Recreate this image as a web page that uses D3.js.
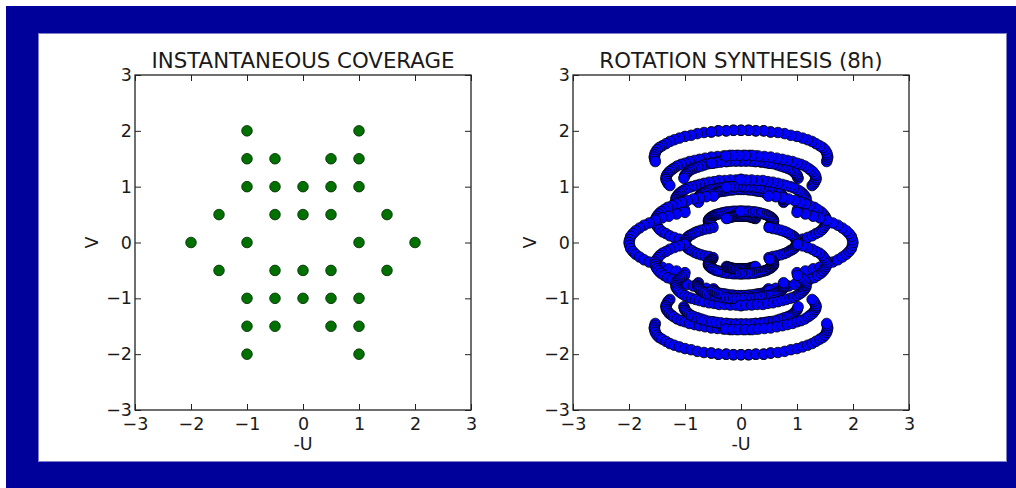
<!DOCTYPE html>
<html>
<head>
<meta charset="utf-8">
<script src="https://cdn.jsdelivr.net/npm/d3@7"></script>
<style>
  body { margin: 0; background: #fff; }
  svg text { font-family: "DejaVu Sans", sans-serif; fill: #1a1a1a; }
</style>
</head>
<body>
<div id="chart"></div>
<script>
// baselines in the instantaneous panel (-U, V)
const baseU = [-1, 1, -1, -0.5, 0.5, 1, -1, -0.5, 0, 0.5, 1, -1.5, -0.5, 0, 0.5, 1.5, -2, -1, 1, 2,
  -1.5, -0.5, 0, 0.5, 1.5, -1, -0.5, 0, 0.5, 1, -1, -0.5, 0.5, 1, -1, 1];
const baseV = [2, 2, 1.5, 1.5, 1.5, 1.5, 1, 1, 1, 1, 1, 0.5, 0.5, 0.5, 0.5, 0.5, 0, 0, 0, 0,
  -0.5, -0.5, -0.5, -0.5, -0.5, -1, -1, -1, -1, -1, -1.5, -1.5, -1.5, -1.5, -2, -2];

// 8h tracks, one row of 25 samples per baseline (U values)
const trackU = [
  // upper half
  [.53,.4,.26,.13,0,-.14,-.27,-.41,-.53,-.66,-.78,-.89,-1,-1.1,-1.19,-1.27,-1.34,-1.41,-1.46,-1.5,-1.53,-1.54,-1.55,-1.54,-1.53],
  [1.53,1.54,1.55,1.54,1.53,1.5,1.46,1.41,1.34,1.27,1.19,1.1,1,.89,.78,.66,.53,.41,.27,.14,0,-.13,-.26,-.4,-.53],
  [.27,.15,.04,-.08,-.2,-.31,-.42,-.53,-.64,-.74,-.83,-.92,-1,-1.07,-1.14,-1.2,-1.24,-1.28,-1.31,-1.33,-1.34,-1.34,-1.32,-1.3,-1.27],
  [.52,.44,.36,.27,.19,.1,.01,-.08,-.17,-.25,-.34,-.42,-.5,-.58,-.65,-.71,-.77,-.83,-.88,-.92,-.95,-.98,-1,-1.01,-1.02],
  [1.02,1.01,1,.98,.95,.92,.88,.83,.77,.71,.65,.58,.5,.42,.34,.25,.17,.08,-.01,-.1,-.19,-.27,-.36,-.44,-.52],
  [1.27,1.3,1.32,1.34,1.34,1.33,1.31,1.28,1.24,1.2,1.14,1.07,1,.92,.83,.74,.64,.53,.42,.31,.2,.08,-.04,-.15,-.27],
  [.01,-.09,-.19,-.29,-.39,-.48,-.57,-.66,-.74,-.81,-.88,-.94,-1,-1.05,-1.09,-1.12,-1.14,-1.16,-1.16,-1.16,-1.15,-1.13,-1.1,-1.06,-1.01],
  [.26,.2,.13,.07,0,-.07,-.14,-.2,-.27,-.33,-.39,-.45,-.5,-.55,-.6,-.64,-.67,-.7,-.73,-.75,-.76,-.77,-.77,-.77,-.76],
  [.51,.48,.45,.42,.38,.34,.3,.25,.2,.15,.1,.05,0,-.05,-.1,-.15,-.2,-.25,-.3,-.34,-.38,-.42,-.45,-.48,-.51],
  [.76,.77,.77,.77,.76,.75,.73,.7,.67,.64,.6,.55,.5,.45,.39,.33,.27,.2,.14,.07,0,-.07,-.13,-.2,-.26],
  [1.01,1.06,1.1,1.13,1.15,1.16,1.16,1.16,1.14,1.12,1.09,1.05,1,.94,.88,.81,.74,.66,.57,.48,.39,.29,.19,.09,-.01],
  [-.49,-.62,-.74,-.85,-.96,-1.06,-1.15,-1.23,-1.31,-1.37,-1.43,-1.47,-1.5,-1.52,-1.53,-1.53,-1.51,-1.48,-1.45,-1.4,-1.34,-1.27,-1.19,-1.1,-1.01],
  [.01,-.04,-.09,-.14,-.19,-.24,-.29,-.33,-.37,-.41,-.44,-.47,-.5,-.52,-.54,-.56,-.57,-.58,-.58,-.58,-.57,-.56,-.55,-.53,-.51],
  [.26,.24,.23,.21,.19,.17,.15,.13,.1,.08,.05,.03,0,-.03,-.05,-.08,-.1,-.13,-.15,-.17,-.19,-.21,-.23,-.24,-.26],
  [.51,.53,.55,.56,.57,.58,.58,.58,.57,.56,.54,.52,.5,.47,.44,.41,.37,.33,.29,.24,.19,.14,.09,.04,-.01],
  [1.01,1.1,1.19,1.27,1.34,1.4,1.45,1.48,1.51,1.53,1.53,1.52,1.5,1.47,1.43,1.37,1.31,1.23,1.15,1.06,.96,.85,.74,.62,.49],
  [.5,.57,.64,.71,.77,.82,.87,.91,.94,.97,.98,1,1,1,.98,.97,.94,.91,.87,.82,.77,.71,.64,.57,.5],
  [1,1.15,1.29,1.41,1.53,1.64,1.73,1.81,1.88,1.93,1.97,1.99,2,1.99,1.97,1.93,1.88,1.81,1.73,1.64,1.53,1.41,1.29,1.15,1],
  // lower half
  [-1,-1.15,-1.29,-1.41,-1.53,-1.64,-1.73,-1.81,-1.88,-1.93,-1.97,-1.99,-2,-1.99,-1.97,-1.93,-1.88,-1.81,-1.73,-1.64,-1.53,-1.41,-1.29,-1.15,-1],
  [-.5,-.57,-.64,-.71,-.77,-.82,-.87,-.91,-.94,-.97,-.98,-1,-1,-1,-.98,-.97,-.94,-.91,-.87,-.82,-.77,-.71,-.64,-.57,-.5],
  [-1.01,-1.1,-1.19,-1.27,-1.34,-1.4,-1.45,-1.48,-1.51,-1.53,-1.53,-1.52,-1.5,-1.47,-1.43,-1.37,-1.31,-1.23,-1.15,-1.06,-.96,-.85,-.74,-.62,-.49],
  [-.51,-.53,-.55,-.56,-.57,-.58,-.58,-.58,-.57,-.56,-.54,-.52,-.5,-.47,-.44,-.41,-.37,-.33,-.29,-.24,-.19,-.14,-.09,-.04,.01],
  [-.26,-.24,-.23,-.21,-.19,-.17,-.15,-.13,-.1,-.08,-.05,-.03,0,.03,.05,.08,.1,.13,.15,.17,.19,.21,.23,.24,.26],
  [-.01,.04,.09,.14,.19,.24,.29,.33,.37,.41,.44,.47,.5,.52,.54,.56,.57,.58,.58,.58,.57,.56,.55,.53,.51],
  [.49,.62,.74,.85,.96,1.06,1.15,1.23,1.31,1.37,1.43,1.47,1.5,1.52,1.53,1.53,1.51,1.48,1.45,1.4,1.34,1.27,1.19,1.1,1.01],
  [-1.01,-1.06,-1.1,-1.13,-1.15,-1.16,-1.16,-1.16,-1.14,-1.12,-1.09,-1.05,-1,-.94,-.88,-.81,-.74,-.66,-.57,-.48,-.39,-.29,-.19,-.09,.01],
  [-.76,-.77,-.77,-.77,-.76,-.75,-.73,-.7,-.67,-.64,-.6,-.55,-.5,-.45,-.39,-.33,-.27,-.2,-.14,-.07,0,.07,.13,.2,.26],
  [-.51,-.48,-.45,-.42,-.38,-.34,-.3,-.25,-.2,-.15,-.1,-.05,0,.05,.1,.15,.2,.25,.3,.34,.38,.42,.45,.48,.51],
  [-.26,-.2,-.13,-.07,0,.07,.14,.2,.27,.33,.39,.45,.5,.55,.6,.64,.67,.7,.73,.75,.76,.77,.77,.77,.76],
  [-.01,.09,.19,.29,.39,.48,.57,.66,.74,.81,.88,.94,1,1.05,1.09,1.12,1.14,1.16,1.16,1.16,1.15,1.13,1.1,1.06,1.01],
  [-1.27,-1.3,-1.32,-1.34,-1.34,-1.33,-1.31,-1.28,-1.24,-1.2,-1.14,-1.07,-1,-.92,-.83,-.74,-.64,-.53,-.42,-.31,-.2,-.08,.04,.15,.27],
  [-1.02,-1.01,-1,-.98,-.95,-.92,-.88,-.83,-.77,-.71,-.65,-.58,-.5,-.42,-.34,-.25,-.17,-.08,.01,.1,.19,.27,.36,.44,.52],
  [-.52,-.44,-.36,-.27,-.19,-.1,-.01,.08,.17,.25,.34,.42,.5,.58,.65,.71,.77,.83,.88,.92,.95,.98,1,1.01,1.02],
  [-.27,-.15,-.04,.08,.2,.31,.42,.53,.64,.74,.83,.92,1,1.07,1.14,1.2,1.24,1.28,1.31,1.33,1.34,1.34,1.32,1.3,1.27],
  [-1.53,-1.54,-1.55,-1.54,-1.53,-1.5,-1.46,-1.41,-1.34,-1.27,-1.19,-1.1,-1,-.89,-.78,-.66,-.53,-.41,-.27,-.14,0,.13,.26,.4,.53],
  [-.53,-.4,-.26,-.13,0,.14,.27,.41,.53,.66,.78,.89,1,1.1,1.19,1.27,1.34,1.41,1.46,1.5,1.53,1.54,1.55,1.54,1.53]
];

// same tracks, V values
const trackV = [
  // upper half
  [1.98,2,2,2.01,2.01,2.01,2,2,1.98,1.97,1.95,1.92,1.9,1.87,1.84,1.81,1.77,1.73,1.7,1.66,1.61,1.57,1.53,1.49,1.45],
  [1.45,1.49,1.53,1.57,1.61,1.66,1.7,1.73,1.77,1.81,1.84,1.87,1.9,1.92,1.95,1.97,1.98,2,2,2.01,2.01,2.01,2,2,1.98],
  [1.55,1.56,1.56,1.56,1.56,1.55,1.54,1.53,1.51,1.49,1.47,1.45,1.42,1.4,1.37,1.33,1.3,1.27,1.23,1.2,1.16,1.13,1.09,1.05,1.02],
  [1.42,1.43,1.44,1.45,1.46,1.46,1.46,1.46,1.46,1.45,1.45,1.44,1.42,1.41,1.39,1.37,1.35,1.33,1.31,1.29,1.26,1.23,1.21,1.18,1.15],
  [1.15,1.18,1.21,1.23,1.26,1.29,1.31,1.33,1.35,1.37,1.39,1.41,1.42,1.44,1.45,1.45,1.46,1.46,1.46,1.46,1.46,1.45,1.44,1.43,1.42],
  [1.02,1.05,1.09,1.13,1.16,1.2,1.23,1.27,1.3,1.33,1.37,1.4,1.42,1.45,1.47,1.49,1.51,1.53,1.54,1.55,1.56,1.56,1.56,1.56,1.55],
  [1.13,1.12,1.12,1.11,1.11,1.09,1.08,1.06,1.04,1.02,1,.98,.95,.92,.89,.86,.83,.8,.77,.74,.71,.68,.65,.62,.59],
  [.99,1,1,1.01,1.01,1,1,1,.99,.98,.97,.96,.95,.94,.92,.9,.89,.87,.85,.83,.81,.79,.77,.74,.72],
  [.86,.87,.88,.9,.91,.92,.92,.93,.94,.94,.95,.95,.95,.95,.95,.94,.94,.93,.92,.92,.91,.9,.88,.87,.86],
  [.72,.74,.77,.79,.81,.83,.85,.87,.89,.9,.92,.94,.95,.96,.97,.98,.99,1,1,1,1.01,1.01,1,1,.99],
  [.59,.62,.65,.68,.71,.74,.77,.8,.83,.86,.89,.92,.95,.98,1,1.02,1.04,1.06,1.08,1.09,1.11,1.11,1.12,1.12,1.13],
  [.83,.82,.8,.78,.75,.72,.69,.66,.63,.59,.55,.51,.47,.43,.39,.35,.31,.27,.23,.19,.16,.12,.09,.06,.03],
  [.56,.56,.56,.56,.55,.55,.54,.53,.52,.51,.5,.49,.47,.46,.45,.43,.42,.4,.39,.37,.35,.34,.32,.31,.3],
  [.43,.44,.44,.45,.45,.46,.46,.47,.47,.47,.47,.47,.47,.47,.47,.47,.47,.47,.46,.46,.45,.45,.44,.44,.43],
  [.3,.31,.32,.34,.35,.37,.39,.4,.42,.43,.45,.46,.47,.49,.5,.51,.52,.53,.54,.55,.55,.56,.56,.56,.56],
  [.03,.06,.09,.12,.16,.19,.23,.27,.31,.35,.39,.43,.47,.51,.55,.59,.63,.66,.69,.72,.75,.78,.8,.82,.83],
  [-.27,-.25,-.24,-.22,-.2,-.18,-.15,-.13,-.11,-.08,-.05,-.03,0,.03,.05,.08,.11,.13,.15,.18,.2,.22,.24,.25,.27],
  [-.54,-.51,-.47,-.44,-.4,-.35,-.31,-.26,-.21,-.16,-.11,-.05,0,.05,.11,.16,.21,.26,.31,.35,.4,.44,.47,.51,.54],
  // lower half
  [.54,.51,.47,.44,.4,.35,.31,.26,.21,.16,.11,.05,0,-.05,-.11,-.16,-.21,-.26,-.31,-.35,-.4,-.44,-.47,-.51,-.54],
  [.27,.25,.24,.22,.2,.18,.15,.13,.11,.08,.05,.03,0,-.03,-.05,-.08,-.11,-.13,-.15,-.18,-.2,-.22,-.24,-.25,-.27],
  [-.03,-.06,-.09,-.12,-.16,-.19,-.23,-.27,-.31,-.35,-.39,-.43,-.47,-.51,-.55,-.59,-.63,-.66,-.69,-.72,-.75,-.78,-.8,-.82,-.83],
  [-.3,-.31,-.32,-.34,-.35,-.37,-.39,-.4,-.42,-.43,-.45,-.46,-.47,-.49,-.5,-.51,-.52,-.53,-.54,-.55,-.55,-.56,-.56,-.56,-.56],
  [-.43,-.44,-.44,-.45,-.45,-.46,-.46,-.47,-.47,-.47,-.47,-.47,-.47,-.47,-.47,-.47,-.47,-.47,-.46,-.46,-.45,-.45,-.44,-.44,-.43],
  [-.56,-.56,-.56,-.56,-.55,-.55,-.54,-.53,-.52,-.51,-.5,-.49,-.47,-.46,-.45,-.43,-.42,-.4,-.39,-.37,-.35,-.34,-.32,-.31,-.3],
  [-.83,-.82,-.8,-.78,-.75,-.72,-.69,-.66,-.63,-.59,-.55,-.51,-.47,-.43,-.39,-.35,-.31,-.27,-.23,-.19,-.16,-.12,-.09,-.06,-.03],
  [-.59,-.62,-.65,-.68,-.71,-.74,-.77,-.8,-.83,-.86,-.89,-.92,-.95,-.98,-1,-1.02,-1.04,-1.06,-1.08,-1.09,-1.11,-1.11,-1.12,-1.12,-1.13],
  [-.72,-.74,-.77,-.79,-.81,-.83,-.85,-.87,-.89,-.9,-.92,-.94,-.95,-.96,-.97,-.98,-.99,-1,-1,-1,-1.01,-1.01,-1,-1,-.99],
  [-.86,-.87,-.88,-.9,-.91,-.92,-.92,-.93,-.94,-.94,-.95,-.95,-.95,-.95,-.95,-.94,-.94,-.93,-.92,-.92,-.91,-.9,-.88,-.87,-.86],
  [-.99,-1,-1,-1.01,-1.01,-1,-1,-1,-.99,-.98,-.97,-.96,-.95,-.94,-.92,-.9,-.89,-.87,-.85,-.83,-.81,-.79,-.77,-.74,-.72],
  [-1.13,-1.12,-1.12,-1.11,-1.11,-1.09,-1.08,-1.06,-1.04,-1.02,-1,-.98,-.95,-.92,-.89,-.86,-.83,-.8,-.77,-.74,-.71,-.68,-.65,-.62,-.59],
  [-1.02,-1.05,-1.09,-1.13,-1.16,-1.2,-1.23,-1.27,-1.3,-1.33,-1.37,-1.4,-1.42,-1.45,-1.47,-1.49,-1.51,-1.53,-1.54,-1.55,-1.56,-1.56,-1.56,-1.56,-1.55],
  [-1.15,-1.18,-1.21,-1.23,-1.26,-1.29,-1.31,-1.33,-1.35,-1.37,-1.39,-1.41,-1.42,-1.44,-1.45,-1.45,-1.46,-1.46,-1.46,-1.46,-1.46,-1.45,-1.44,-1.43,-1.42],
  [-1.42,-1.43,-1.44,-1.45,-1.46,-1.46,-1.46,-1.46,-1.46,-1.45,-1.45,-1.44,-1.42,-1.41,-1.39,-1.37,-1.35,-1.33,-1.31,-1.29,-1.26,-1.23,-1.21,-1.18,-1.15],
  [-1.55,-1.56,-1.56,-1.56,-1.56,-1.55,-1.54,-1.53,-1.51,-1.49,-1.47,-1.45,-1.42,-1.4,-1.37,-1.33,-1.3,-1.27,-1.23,-1.2,-1.16,-1.13,-1.09,-1.05,-1.02],
  [-1.45,-1.49,-1.53,-1.57,-1.61,-1.66,-1.7,-1.73,-1.77,-1.81,-1.84,-1.87,-1.9,-1.92,-1.95,-1.97,-1.98,-2,-2,-2.01,-2.01,-2.01,-2,-2,-1.98],
  [-1.98,-2,-2,-2.01,-2.01,-2.01,-2,-2,-1.98,-1.97,-1.95,-1.92,-1.9,-1.87,-1.84,-1.81,-1.77,-1.73,-1.7,-1.66,-1.61,-1.57,-1.53,-1.49,-1.45]
];

const ticks = [-3, -2, -1, 0, 1, 2, 3];
const titles = ['INSTANTANEOUS COVERAGE', 'ROTATION SYNTHESIS (8h)'];

const width = 1016, height = 488;
const svg = d3.select('#chart').append('svg')
  .attr('width', width)
  .attr('height', height);

// navy frame around the figure
svg.append('rect').attr('x', 6).attr('y', 6).attr('width', 1010).attr('height', 482).attr('fill', '#00009a');
svg.append('rect').attr('x', 38.5).attr('y', 33.5).attr('width', 968).attr('height', 428)
  .attr('fill', '#fff').attr('stroke', '#8080c8').attr('stroke-width', 1);

function drawPanel(left, title, us, vs, fill, edge) {
  const top = 75, w = 336, h = 335;
  const x = d3.scaleLinear().domain([-3, 3]).range([0, w]);
  const y = d3.scaleLinear().domain([-3, 3]).range([h, 0]);
  const g = svg.append('g').attr('transform', `translate(${left}, ${top})`);

  g.selectAll('circle')
    .data(us)
    .enter()
    .append('circle')
    .attr('cx', d => x(d))
    .attr('cy', (d, i) => y(vs[i]))
    .attr('r', 5.3)
    .attr('fill', fill)
    .attr('stroke', edge)
    .attr('stroke-width', 0.8);

  const fmt = d3.format('d');
  const style = sel => {
    sel.select('.domain').remove();
    sel.selectAll('line').attr('stroke', '#222').attr('stroke-width', 1);
    sel.selectAll('text').style('font-size', '17.5px').style('fill', '#1a1a1a');
  };
  // ticks point inwards on all four sides
  g.append('g').attr('transform', `translate(0, ${h})`)
    .call(d3.axisBottom(x).tickValues(ticks).tickFormat(fmt).tickSize(-6).tickPadding(7.5)).call(style);
  g.append('g')
    .call(d3.axisLeft(y).tickValues(ticks).tickFormat(fmt).tickSize(-6).tickPadding(3)).call(style);
  g.append('g')
    .call(d3.axisTop(x).tickValues(ticks).tickSize(-6).tickFormat('')).call(style);
  g.append('g').attr('transform', `translate(${w}, 0)`)
    .call(d3.axisRight(y).tickValues(ticks).tickSize(-6).tickFormat('')).call(style);

  g.append('rect').attr('width', w).attr('height', h)
    .attr('fill', 'none').attr('stroke', '#222').attr('stroke-width', 1.3);

  g.append('text').attr('x', w / 2).attr('y', -7)
    .attr('text-anchor', 'middle').style('font-size', '21.3px').text(title);
  g.append('text').attr('x', w / 2).attr('y', h + 40)
    .attr('text-anchor', 'middle').style('font-size', '17.5px').text('-U');
  g.append('text').attr('transform', `translate(-37, ${h / 2}) rotate(-90)`)
    .attr('text-anchor', 'middle').style('font-size', '17.5px').text('V');
}

drawPanel(135, titles[0], baseU, baseV, '#007000', '#002800');
drawPanel(573, titles[1], trackU.flat(), trackV.flat(), '#0000ff', '#000');
</script>
</body>
</html>
